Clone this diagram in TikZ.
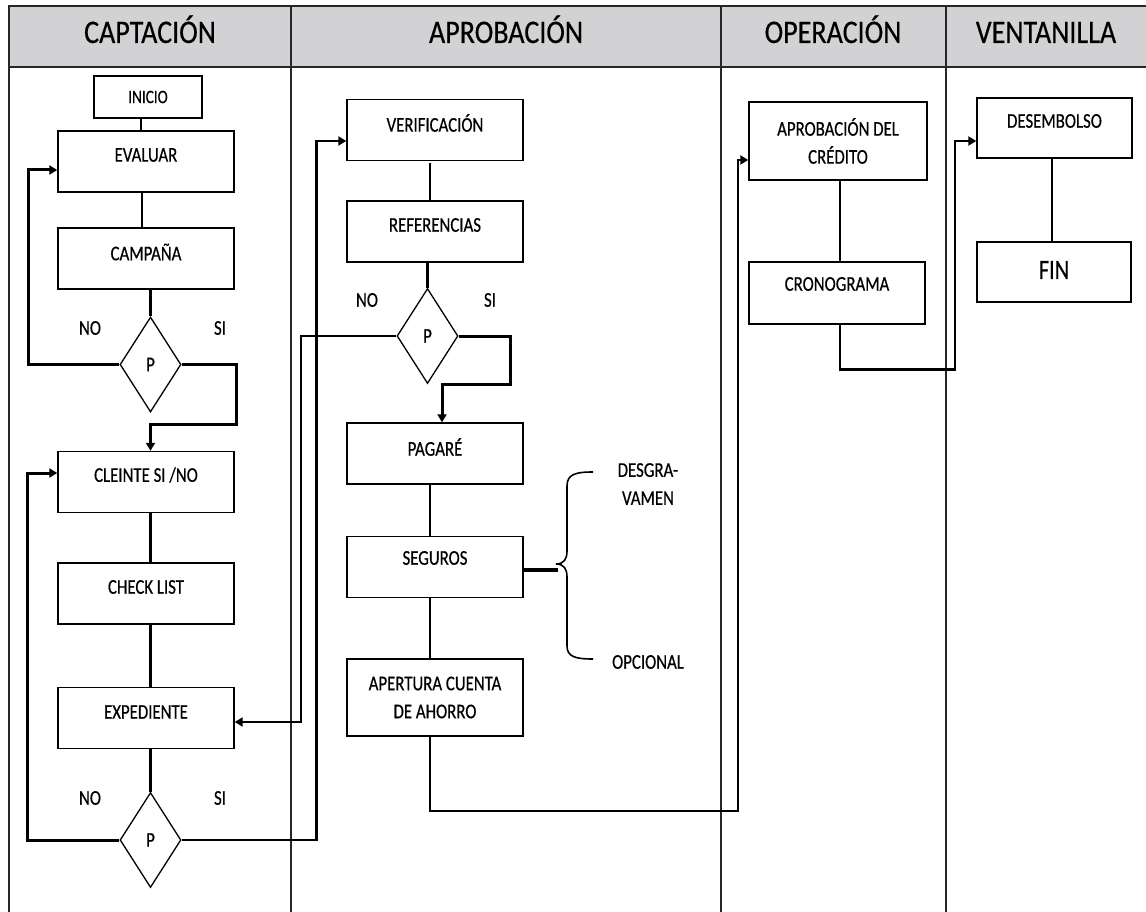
\documentclass[tikz,border=0pt]{standalone}
\usepackage{fontspec}
\setmainfont{Carlito}[FakeStretch=0.8,FakeBold=0.5]
\newfontfamily\hdrfont{Carlito}[FakeStretch=0.85,FakeBold=0.4]
\usetikzlibrary{arrows.meta,shapes.geometric}
\definecolor{hdrgray}{RGB}{210,209,211}
\newcommand\btxt{\fontsize{21}{28}\selectfont}
\begin{document}
\begin{tikzpicture}[x=1pt,y=-1pt,
  box/.style={draw, line width=1.4pt, inner sep=0pt, minimum width=176pt, minimum height=61pt, font=\btxt, align=center},
  dia/.style={diamond, draw, line width=1.3pt, inner sep=0pt, minimum width=61pt, minimum height=95pt, font=\btxt},
  lbl/.style={font=\btxt, inner sep=0pt},
  hdr/.style={font=\hdrfont\fontsize{33}{38}\selectfont, inner sep=0pt, anchor=base},
  frame/.style={line width=1.4pt, draw=black!85},
  tip/.style={-{Triangle[length=8pt,width=9pt]}},
  c3/.style={line width=3pt},
  c25/.style={line width=2.5pt},
  c2/.style={line width=2pt},
  c15/.style={line width=1.5pt},
  every label/.style={font=\btxt, inner sep=0pt, align=center}]
\useasboundingbox (0,0) rectangle (1146,912);
% header and lanes
\fill[hdrgray] (9,6) rectangle (1146,67);
\draw[frame] (1146,6) -- (9,6) -- (9,912);
\draw[frame] (9,67) -- (1146,67);
\draw[frame] (291,6) -- (291,912);
\draw[frame] (721,6) -- (721,912);
\draw[frame] (946,6) -- (946,912);
\node[hdr] (h1) at (150,43) {CAPTACIÓN};
\node[hdr] (h2) at (506,43) {APROBACIÓN};
\node[hdr] (h3) at (833,43) {OPERACIÓN};
\node[hdr] (h4) at (1046,43) {VENTANILLA};
% CAPTACION
\node[box, minimum width=108pt, minimum height=42pt, font=\fontsize{19}{21}\selectfont] (inicio) at (148,97) {INICIO};
\node[box, label={[yshift=6.5pt]center:EVALUAR}] (evaluar) at (146,161.5) {};
\node[box, label={[yshift=6.5pt]center:CAMPAÑA}] (campana) at (146,258.5) {};
\node[dia] (d1) at (150.5,364.5) {P};
\node[lbl] (no1) at (90,328) {NO};
\node[lbl] (si1) at (220,328) {SI};
\node[box, label={[yshift=7pt]center:CLEINTE SI /NO}] (cleinte) at (146,482) {};
\node[box, label={[yshift=6.5pt]center:CHECK LIST}] (check) at (146,593.5) {};
\node[box, label={[yshift=6pt]center:EXPEDIENTE}] (exped) at (146,718) {};
\node[dia] (d2) at (150.5,840) {P};
\node[lbl] (no2) at (90,798) {NO};
\node[lbl] (si2) at (220,798) {SI};
% APROBACION
\node[box, label={[yshift=7pt]center:VERIFICACIÓN}] (verif) at (435,130) {};
\node[box, label={[yshift=6.5pt]center:REFERENCIAS}] (refer) at (435,231.5) {};
\node[dia] (d3) at (427.5,336) {P};
\node[lbl] (no3) at (367,300) {NO};
\node[lbl] (si3) at (490,300) {SI};
\node[box, label={[yshift=6.5pt]center:PAGARÉ}] (pagare) at (435,453.5) {};
\node[box, label={[yshift=9pt]center:SEGUROS}] (seguros) at (435,567) {};
\node[box, minimum height=77pt] (apert) at (435,697.5) {APERTURA CUENTA\\DE AHORRO};
\node[lbl, align=center] (desg) at (648,484) {DESGRA-\\VAMEN};
\node[lbl] (opc) at (648,662) {OPCIONAL};
% OPERACION
\node[box, minimum width=178pt, minimum height=78pt] (aprob) at (838,141) {APROBACIÓN DEL\\CRÉDITO};
\node[box, minimum height=62pt, label={[yshift=9pt]center:CRONOGRAMA}] (crono) at (837,293) {};
% VENTANILLA
\node[box, minimum width=155pt, minimum height=60pt, label={[yshift=7pt]center:DESEMBOLSO}] (desemb) at (1054.5,128) {};
\node[box, minimum width=154pt, minimum height=60pt, label={[yshift=2pt, font=\fontsize{28}{30}\selectfont]center:FIN}] (fin) at (1054,272) {};
% connectors CAPTACION
\draw[c25] ([xshift=-7pt]inicio.south) -- ([xshift=-7pt]inicio.south |- evaluar.north);
\draw[c25] ([xshift=-4pt]evaluar.south) -- ([xshift=-4pt]evaluar.south |- campana.north);
\draw[c25] (d1.north |- campana.south) -- (d1.north);
\draw[c3, tip] (d1.west) -- ++(-91,0) |- ([yshift=-8.5pt]evaluar.west);
\draw[c3, tip] (d1.east) -- ++(55,0) -- ++(0,60) -| (d1.south |- cleinte.north);
\draw[c25] (d1.south |- cleinte.south) -- (d1.south |- check.north);
\draw[c25] (d1.south |- check.south) -- (d1.south |- exped.north);
\draw[c25] (d1.south |- exped.south) -- (d2.north);
\draw[c3, tip] (d2.west) -- ++(-92,0) |- ([yshift=9pt]cleinte.west);
\draw[c25, tip] (d2.east) -- ++(135,0) |- ([yshift=-11pt]verif.west);
% connectors APROBACION
\draw[c2, tip] (d3.west) -- ++(-95,0) |- ([yshift=-4pt]exped.east);
\draw[c15] ([xshift=-5pt,yshift=-2pt]verif.south) -- ([xshift=-5pt]refer.north);
\draw[c25] (d3.north |- refer.south) -- (d3.north);
\draw[c3, tip] (d3.east) -- ++(52,0) -- ++(0,48) -| ([xshift=7pt]pagare.north);
\draw[c25] ([xshift=-5pt]pagare.south) -- ([xshift=-5pt]seguros.north);
\draw[c25] ([xshift=-5pt]seguros.south) -- ([xshift=-5pt]apert.north);
\draw[c2, tip] ([xshift=-5pt]apert.south) -- ++(0,74) -- ++(308,0) |- ([yshift=-19pt]aprob.west);
% brace
\draw[line width=3.5pt] ([yshift=-3pt]seguros.east) -- ++(34,0);
\draw[line width=1.6pt] (593,472) .. controls (576,472) and (567,474) .. (567,486) -- (567,551)
  .. controls (567,559) and (564,564) .. (556,564) .. controls (564,564) and (567,569) .. (567,577)
  -- (567,646) .. controls (567,657) and (576,659) .. (593,659);
% connectors OPERACION / VENTANILLA
\draw[c25] ([xshift=2pt]aprob.south) -- ([xshift=2pt]aprob.south |- crono.north);
\draw[c25, tip] ([xshift=3pt]crono.south) -- ++(0,45) -- ++(115,0) |- ([yshift=-13pt]desemb.west);
\draw[c25] ([xshift=-2.5pt]desemb.south) -- ([xshift=-2.5pt]desemb.south |- fin.north);
\end{tikzpicture}
\end{document}
